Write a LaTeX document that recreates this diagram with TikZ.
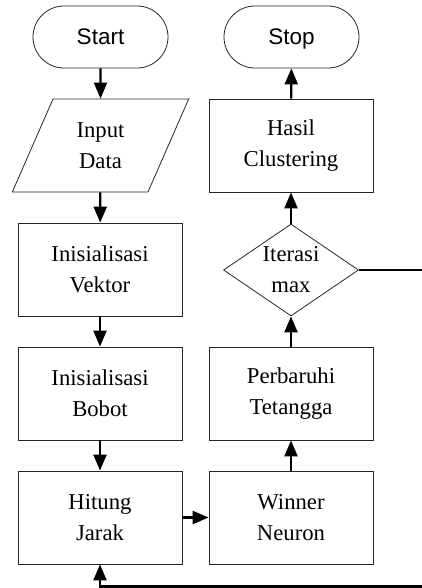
\documentclass[tikz,border=0pt]{standalone}
\usepackage{fontspec}
\setmainfont{Liberation Serif}
\newfontfamily\arialfont{Liberation Sans}
\usetikzlibrary{shapes.geometric,arrows.meta}
\begin{document}
\begin{tikzpicture}[x=1pt,y=-1pt,
  base/.style={draw=black!85,line width=0.8pt,inner sep=0pt,align=center,
    font=\fontsize{22.7}{31}\selectfont},
  procbox/.style={base,rectangle,minimum width=164pt,minimum height=93pt},
  term/.style={base,rectangle,rounded corners=31pt,minimum width=135pt,minimum height=62pt,
    text height=16pt,text depth=1pt,
    font=\arialfont\fontsize{22.5}{26}\selectfont},
  iobox/.style={base,trapezium,trapezium left angle=66,trapezium right angle=114,
    trapezium stretches=true,minimum width=177pt,minimum height=93pt},
  decbox/.style={base,diamond,minimum width=135pt,minimum height=92pt,aspect=1.47},
  flow/.style={line width=2.2pt,-{Triangle[width=13pt,length=16pt]}},
  plain/.style={line width=2.2pt}]
\clip (0,0) rectangle (422,588);
\node[term] (start) at (100.5,37) {Start};
\node[iobox] (input) at (100.5,145.5) {Input\\Data};
\node[procbox] (vektor) at (100,269.5) {Inisialisasi\\Vektor};
\node[procbox] (bobot) at (100,393.5) {Inisialisasi\\Bobot};
\node[procbox] (hitung) at (100,517.5) {Hitung\\Jarak};
\node[term] (stop) at (291.5,37) {Stop};
\node[procbox] (hasil) at (291,145.5) {Hasil\\Clustering};
\node[decbox] (iter) at (291,270) {Iterasi\\max};
\node[procbox] (perb) at (291,393.5) {Perbaruhi\\Tetangga};
\node[procbox] (winner) at (291,517.5) {Winner\\Neuron};
\coordinate (rtop) at (440,270);
\coordinate (rbot) at (440,586.5);
\draw[flow] (start) -- (input);
\draw[flow] (input) -- (vektor);
\draw[flow] (vektor) -- (bobot);
\draw[flow] (bobot) -- (hitung);
\draw[flow] (hitung) -- (winner);
\draw[flow] (winner) -- (perb);
\draw[flow] (perb) -- (iter);
\draw[flow] (iter) -- (hasil);
\draw[flow] (hasil) -- (stop);
\draw[flow] (iter.east) -- (rtop) -- (rbot) -| (hitung.south);
\end{tikzpicture}
\end{document}
